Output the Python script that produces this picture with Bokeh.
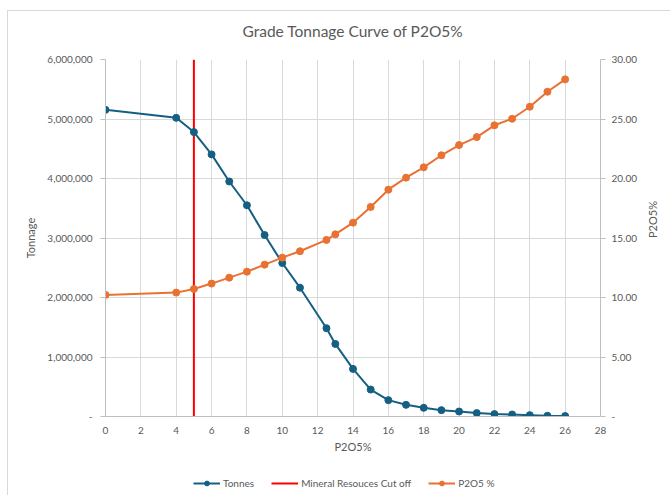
import math
from bokeh.plotting import figure
from bokeh.layouts import column
from bokeh.models import (Range1d, LinearAxis, FixedTicker, CustomJSTickFormatter,
                          Legend, LegendItem)
from bokeh.embed import file_html
from bokeh.resources import INLINE

# ---- data ----
grade = [0, 4, 5, 6, 7, 8, 9, 10, 11, 12.5, 13, 14, 15, 16, 17, 18, 19, 20,
         21, 22, 23, 24, 25, 26]
tonnes = [5154000, 5020000, 4780000, 4405000, 3950000, 3550000, 3050000,
          2580000, 2165000, 1484000, 1220000, 800000, 453000, 275000, 196000,
          146000, 107000, 84000, 57000, 40000, 34000, 23000, 12000, 8000]
p2o5_pct = [10.22, 10.41, 10.72, 11.17, 11.67, 12.17, 12.76, 13.35, 13.89,
            14.84, 15.31, 16.29, 17.61, 19.06, 20.07, 20.94, 21.95, 22.81,
            23.48, 24.47, 25.02, 26.03, 27.29, 28.33]
cutoff = 5
x_ticks = list(range(0, 30, 2))
tonnage_ticks = [0, 1000000, 2000000, 3000000, 4000000, 5000000, 6000000]
pct_ticks = [0, 5, 10, 15, 20, 25, 30]

FONT = "Lato"
TXT = "#595959"
BLUE = "#156082"
ORANGE = "#E97132"
RED = "#FF0000"
GRID = "#d9d9d9"

p = figure(width=670, height=456, output_backend="svg", toolbar_location=None,
           x_range=Range1d(x_ticks[0], x_ticks[-1]),
           y_range=Range1d(tonnage_ticks[0], tonnage_ticks[-1]),
           min_border_left=105, min_border_right=70, min_border_top=58,
           min_border_bottom=40)
p.extra_y_ranges = {"pct": Range1d(pct_ticks[0], pct_ticks[-1])}
p.outline_line_color = None
p.background_fill_color = "white"
p.border_fill_color = None

p.title.text = "Grade Tonnage Curve of P2O5%"
p.title.align = "center"
p.title.text_font = FONT
p.title.text_font_size = "15.5px"
p.title.text_font_style = "normal"
p.title.text_color = TXT
p.title.standoff = 39

# axes
xa = p.xaxis[0]
xa.ticker = FixedTicker(ticks=x_ticks)
xa.axis_label = "P2O5%"
ya = p.yaxis[0]
ya.ticker = FixedTicker(ticks=tonnage_ticks)
ya.axis_label = "Tonnage"
ya.formatter = CustomJSTickFormatter(code="""
if (tick == 0) return '-';
return Math.round(tick).toString().replace(/\\B(?=(\\d{3})+(?!\\d))/g, ',');
""")
ra = LinearAxis(y_range_name="pct", ticker=FixedTicker(ticks=pct_ticks),
                axis_label="P2O5%")
ra.formatter = CustomJSTickFormatter(code="""
if (tick == 0) return '-';
return tick.toFixed(2);
""")
try:
    ra.axis_label_orientation = math.pi / 2
except Exception:
    pass
p.add_layout(ra, "right")

for ax in (xa, ya, ra):
    ax.axis_line_color = "#bfbfbf"
    ax.major_tick_line_color = "#bfbfbf"
    ax.minor_tick_line_color = None
    ax.major_tick_in = 0
    ax.major_label_text_font = FONT
    ax.major_label_text_font_size = "10px"
    ax.major_label_text_color = TXT
    ax.axis_label_text_font = FONT
    ax.axis_label_text_font_size = "11px"
    ax.axis_label_text_font_style = "normal"
    ax.axis_label_text_color = TXT
xa.major_tick_out = 0
xa.major_label_standoff = 10
xa.axis_label_standoff = 3
ya.major_tick_out = 5
ya.major_label_standoff = 8
ya.axis_label_standoff = 7
ra.major_tick_out = 5
ra.major_label_standoff = 6
ra.axis_label_standoff = 12

p.xgrid.ticker = FixedTicker(ticks=x_ticks)
p.ygrid.ticker = FixedTicker(ticks=tonnage_ticks)
p.xgrid.grid_line_color = GRID
p.ygrid.grid_line_color = GRID

# glyphs
p.line([cutoff, cutoff], [tonnage_ticks[0], tonnage_ticks[-1]],
       line_color=RED, line_width=2)
p.line(grade, tonnes, line_color=BLUE, line_width=2)
p.scatter(grade, tonnes, size=7, fill_color=BLUE, line_color=BLUE)
p.line(grade, p2o5_pct, line_color=ORANGE, line_width=2, y_range_name="pct")
p.scatter(grade, p2o5_pct, size=7, fill_color=ORANGE, line_color=ORANGE,
          y_range_name="pct")

# legend strip (separate small figure below the chart; its key renderers use
# the same series but fall outside this strip's ranges, so only the legend shows)
lg = figure(width=670, height=39, output_backend="svg", toolbar_location=None,
            x_axis_type=None, y_axis_type=None, min_border=0,
            x_range=Range1d(-1, -0.5), y_range=Range1d(-1, -0.5))
lg.outline_line_color = None
lg.background_fill_color = None
lg.border_fill_color = None
lg.grid.visible = False
kbl = lg.line(grade, tonnes, line_color=BLUE, line_width=2)
kbs = lg.scatter(grade, tonnes, size=7, fill_color=BLUE, line_color=BLUE)
kr = lg.line([cutoff, cutoff], [tonnage_ticks[0], tonnage_ticks[-1]],
             line_color=RED, line_width=2)
kol = lg.line(grade, p2o5_pct, line_color=ORANGE, line_width=2)
kos = lg.scatter(grade, p2o5_pct, size=7, fill_color=ORANGE, line_color=ORANGE)

legend = Legend(items=[LegendItem(label="Tonnes", renderers=[kbl, kbs]),
                       LegendItem(label="Mineral Resouces Cut off", renderers=[kr]),
                       LegendItem(label="P2O5 %", renderers=[kol, kos])],
                orientation="horizontal", location=(88, 6))
legend.padding = 0
legend.margin = 0
legend.border_line_color = None
legend.background_fill_alpha = 0
legend.glyph_width = 27
legend.glyph_height = 12
legend.label_standoff = 3
legend.spacing = 17
legend.label_text_font = FONT
legend.label_text_font_size = "10px"
legend.label_text_color = TXT
legend.label_height = 12
lg.add_layout(legend, "center")

layout = column(p, lg, spacing=0)
layout.styles = {"background": "linear-gradient(#d9d9d9, #d9d9d9) 7px 10px / calc(100% - 7px) 1px no-repeat, "
                               "linear-gradient(#d9d9d9, #d9d9d9) 7px 10px / 1px calc(100% - 10px) no-repeat, #ffffff"}

open("out.html", "w").write(file_html(layout, INLINE))
